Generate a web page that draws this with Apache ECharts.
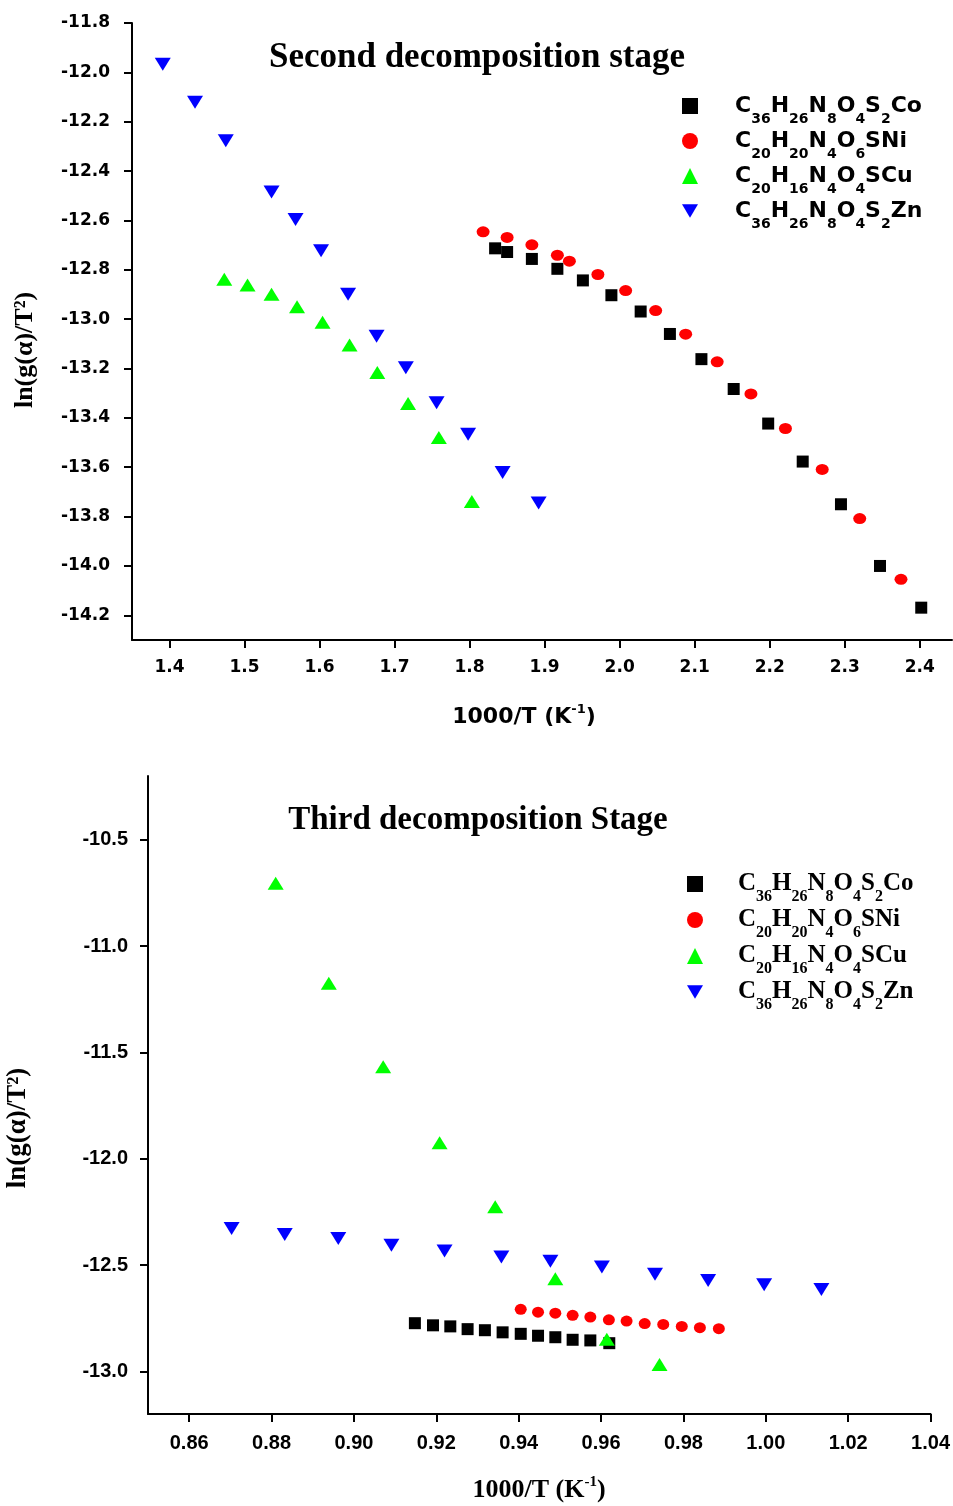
<!DOCTYPE html>
<html><head><meta charset="utf-8">
<script src="https://cdn.jsdelivr.net/npm/echarts@6/dist/echarts.min.js"></script>
<style>html,body{margin:0;padding:0;background:#fff}#c{width:953px;height:1506px}</style>
</head><body><div id="c"></div>
<script>
// ---------- data ----------
const seriesNames = ['Co', 'Ni', 'Cu', 'Zn'];
const formulas = [
  ['C','36','H','26','N','8','O','4','S','2','Co'],
  ['C','20','H','20','N','4','O','6','SNi'],
  ['C','20','H','16','N','4','O','4','SCu'],
  ['C','36','H','26','N','8','O','4','S','2','Zn']
];
const titleTop = 'Second decomposition stage';
const titleBottom = 'Third decomposition Stage';
const yName = 'ln(g(α)/T²)';

const xTicksTop = [1.4, 1.5, 1.6, 1.7, 1.8, 1.9, 2.0, 2.1, 2.2, 2.3, 2.4];
const yTicksTop = [-14.2, -14.0, -13.8, -13.6, -13.4, -13.2, -13.0, -12.8, -12.6, -12.4, -12.2, -12.0, -11.8];
const xTicksBottom = [0.86, 0.88, 0.90, 0.92, 0.94, 0.96, 0.98, 1.00, 1.02, 1.04];
const yTicksBottom = [-13.0, -12.5, -12.0, -11.5, -11.0, -10.5];

// Second decomposition stage
const s2CoX = [1.834, 1.850, 1.883, 1.917, 1.951, 1.989, 2.028, 2.067, 2.109, 2.152, 2.198, 2.244, 2.295, 2.347, 2.402];
const s2CoY = [-12.713, -12.728, -12.756, -12.796, -12.843, -12.903, -12.969, -13.060, -13.162, -13.283, -13.423, -13.577, -13.750, -14.000, -14.169];
const s2NiX = [1.818, 1.850, 1.883, 1.917, 1.933, 1.971, 2.008, 2.048, 2.088, 2.130, 2.175, 2.221, 2.270, 2.320, 2.375];
const s2NiY = [-12.646, -12.669, -12.699, -12.741, -12.765, -12.819, -12.884, -12.965, -13.061, -13.173, -13.303, -13.443, -13.609, -13.808, -14.054];
const s2CuX = [1.473, 1.504, 1.536, 1.570, 1.604, 1.640, 1.677, 1.718, 1.759, 1.803];
const s2CuY = [-12.838, -12.862, -12.899, -12.950, -13.013, -13.105, -13.216, -13.342, -13.480, -13.739];
const s2ZnX = [1.391, 1.434, 1.475, 1.536, 1.568, 1.602, 1.638, 1.676, 1.715, 1.756, 1.798, 1.844, 1.892];
const s2ZnY = [-11.967, -12.121, -12.277, -12.485, -12.596, -12.723, -12.899, -13.069, -13.197, -13.339, -13.466, -13.621, -13.745];

// Third decomposition stage
const s3CoX = [0.9148, 0.9192, 0.9234, 0.9276, 0.9318, 0.9361, 0.9405, 0.9447, 0.9489, 0.9531, 0.9574, 0.9620];
const s3CoY = [-12.773, -12.783, -12.788, -12.801, -12.806, -12.816, -12.823, -12.832, -12.839, -12.851, -12.854, -12.867];
const s3NiX = [0.9405, 0.9447, 0.9489, 0.9531, 0.9574, 0.9619, 0.9662, 0.9706, 0.9751, 0.9796, 0.9840, 0.9886];
const s3NiY = [-12.708, -12.721, -12.726, -12.736, -12.744, -12.757, -12.763, -12.775, -12.779, -12.788, -12.794, -12.799];
const s3CuX = [0.8810, 0.8939, 0.9071, 0.9208, 0.9343, 0.9489, 0.9614, 0.9742];
const s3CuY = [-10.704, -11.175, -11.567, -11.925, -12.226, -12.564, -12.849, -12.967];
const s3ZnX = [0.8703, 0.8832, 0.8962, 0.9091, 0.9220, 0.9358, 0.9477, 0.9602, 0.9731, 0.9860, 0.9996, 1.0135];
const s3ZnY = [-12.328, -12.356, -12.375, -12.407, -12.434, -12.462, -12.482, -12.509, -12.543, -12.572, -12.592, -12.615];

// ---------- chart ----------
const zip = (xs, ys) => xs.map((x, i) => [x, ys[i]]);
const SANS = 'DejaVu Sans';
const LSANS = 'Liberation Sans';
const SERIF = 'Liberation Serif';
const colors = ['#000000', '#ff0000', '#00ff00', '#0000ff'];
const symbols = ['rect', 'circle', 'triangle', 'path://M0,0L20,0L10,17Z'];
const sizesTop = [12, [13, 11], [16, 13], [16, 13]];
const sizesBottom = [12, [12, 11], [16, 13], [16, 13]];

const dataTop = [zip(s2CoX, s2CoY), zip(s2NiX, s2NiY), zip(s2CuX, s2CuY), zip(s2ZnX, s2ZnY)];
const dataBottom = [zip(s3CoX, s3CoY), zip(s3NiX, s3NiY), zip(s3CuX, s3CuY), zip(s3ZnX, s3ZnY)];

const series = [];
seriesNames.forEach((n, i) => {
  series.push({ type: 'scatter', name: n, xAxisIndex: 0, yAxisIndex: 0, data: dataTop[i],
    symbol: symbols[i], symbolSize: sizesTop[i], itemStyle: { color: colors[i], opacity: 1 } });
});
seriesNames.forEach((n, i) => {
  series.push({ type: 'scatter', name: n, xAxisIndex: 1, yAxisIndex: 1, data: dataBottom[i],
    symbol: symbols[i], symbolSize: sizesBottom[i], itemStyle: { color: colors[i], opacity: 1 } });
});

const fmtFormula = name => formulas[seriesNames.indexOf(name)]
  .map(p => /^\d+$/.test(p) ? '{s|' + p + '}' : '{m|' + p + '}').join('');

const axisLine = { show: true, onZero: false, lineStyle: { color: '#000', width: 2 } };
const axisTick = vals => ({ show: true, inside: false, length: 8, lineStyle: { color: '#000', width: 2 }, customValues: vals });

const option = {
  animation: false,
  backgroundColor: '#fff',
  grid: [
    { left: 132, top: 23, width: 820, height: 617 },
    { left: 148, top: 776, width: 784, height: 638 }
  ],
  xAxis: [
    { type: 'value', gridIndex: 0, min: 1.35, max: 2.443, axisLine, axisTick: axisTick(xTicksTop), splitLine: { show: false },
      axisLabel: { customValues: xTicksTop, formatter: v => v.toFixed(1), margin: 19, fontFamily: SANS, fontWeight: 'bold', fontSize: 17, color: '#000' } },
    { type: 'value', gridIndex: 1, min: 0.85, max: 1.04, axisLine, axisTick: axisTick(xTicksBottom), splitLine: { show: false },
      axisLabel: { customValues: xTicksBottom, formatter: v => v.toFixed(2), margin: 19, fontFamily: LSANS, fontWeight: 'bold', fontSize: 20, color: '#000' } }
  ],
  yAxis: [
    { type: 'value', gridIndex: 0, min: -14.3, max: -11.8, axisLine, axisTick: axisTick(yTicksTop), splitLine: { show: false },
      axisLabel: { customValues: yTicksTop, formatter: v => v.toFixed(1), margin: 22, fontFamily: SANS, fontWeight: 'bold', fontSize: 17, color: '#000' } },
    { type: 'value', gridIndex: 1, min: -13.2, max: -10.2, axisLine, axisTick: axisTick(yTicksBottom), splitLine: { show: false },
      axisLabel: { customValues: yTicksBottom, formatter: v => v.toFixed(1), margin: 20, fontFamily: LSANS, fontWeight: 'bold', fontSize: 20, color: '#000' } }
  ],
  legend: [
    { data: seriesNames, orient: 'vertical', left: 682, top: 86, padding: 0, itemWidth: 16, itemHeight: 16, itemGap: -5,
      selectedMode: false, formatter: fmtFormula,
      textStyle: { padding: [0, 0, 0, 32], rich: {
        m: { fontFamily: SANS, fontWeight: 'bold', fontSize: 22, lineHeight: 22, color: '#000' },
        s: { fontFamily: SANS, fontWeight: 'bold', fontSize: 14, lineHeight: 14, padding: [26, 0, 0, 0], color: '#000' } } } },
    { data: seriesNames, orient: 'vertical', left: 687, top: 863, padding: 0, itemWidth: 16, itemHeight: 16, itemGap: -6,
      selectedMode: false, formatter: fmtFormula,
      textStyle: { padding: [0, 0, 0, 30], rich: {
        m: { fontFamily: SERIF, fontWeight: 'bold', fontSize: 25, lineHeight: 25, color: '#000' },
        s: { fontFamily: SERIF, fontWeight: 'bold', fontSize: 16, lineHeight: 16, padding: [26, 0, 0, 0], color: '#000' } } } }
  ],
  graphic: [
    { type: 'text', x: 477, y: 58, style: { text: titleTop, x: 0, y: 0, align: 'center', verticalAlign: 'middle',
      fontFamily: SERIF, fontWeight: 'bold', fontSize: 35, fill: '#000' } },
    { type: 'text', x: 478, y: 820, style: { text: titleBottom, x: 0, y: 0, align: 'center', verticalAlign: 'middle',
      fontFamily: SERIF, fontWeight: 'bold', fontSize: 33, fill: '#000' } },
    { type: 'text', x: 25, y: 350, rotation: Math.PI / 2, style: { text: yName, x: 0, y: 0, align: 'center', verticalAlign: 'middle',
      fontFamily: SERIF, fontWeight: 'bold', fontSize: 26, fill: '#000' } },
    { type: 'text', x: 18, y: 1128, rotation: Math.PI / 2, style: { text: yName, x: 0, y: 0, align: 'center', verticalAlign: 'middle',
      fontFamily: SERIF, fontWeight: 'bold', fontSize: 27, fill: '#000' } },
    { type: 'text', x: 524, y: 717, style: { text: '{m|1000/T (K}{p|-1}{m|)}', x: 0, y: 0, align: 'center', verticalAlign: 'middle',
      rich: { m: { fontFamily: SANS, fontWeight: 'bold', fontSize: 22, lineHeight: 22, fill: '#000' },
              p: { fontFamily: SANS, fontWeight: 'bold', fontSize: 13, lineHeight: 13, padding: [0, 0, 14, 0], fill: '#000' } } } },
    { type: 'text', x: 539, y: 1490, style: { text: '{m|1000/T (K}{p|-1}{m|)}', x: 0, y: 0, align: 'center', verticalAlign: 'middle',
      rich: { m: { fontFamily: SERIF, fontWeight: 'bold', fontSize: 26, lineHeight: 26, fill: '#000' },
              p: { fontFamily: SERIF, fontWeight: 'bold', fontSize: 15, lineHeight: 15, padding: [0, 0, 16, 0], fill: '#000' } } } }
  ],
  series
};

const chart = echarts.init(document.getElementById('c'), null, { renderer: 'canvas' });
chart.setOption(option);
</script>
</body></html>
